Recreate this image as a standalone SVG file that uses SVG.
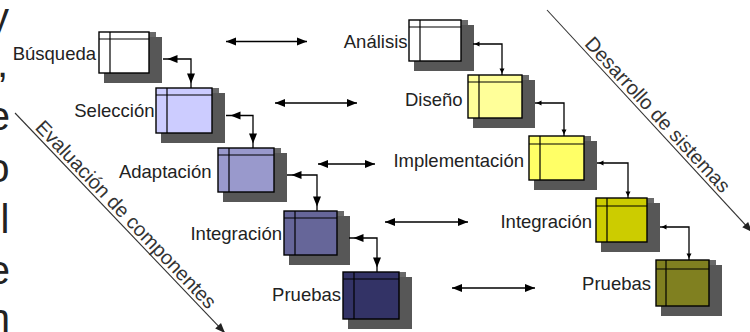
<svg xmlns="http://www.w3.org/2000/svg" width="750" height="332" viewBox="0 0 750 332">
  <style>
    .sh1 { fill: #6a6a6a; }
    .sh2 { fill: #575757; }
    .box { stroke: #000; stroke-width: 1.4; }
    .win { fill: none; stroke: #000; stroke-width: 1.2; }
    .lbl { font-family: "Liberation Sans", Arial, sans-serif; font-size: 18.5px; fill: #222; text-anchor: end; }
    .diag { font-family: "Liberation Sans", Arial, sans-serif; font-size: 20px; fill: #333; text-anchor: middle; }
    .edge { font-family: "Liberation Sans", Arial, sans-serif; font-size: 40px; fill: #222; text-anchor: end; }
    .conn { fill: none; stroke: #000; stroke-width: 1.3; }
    .axis { fill: none; stroke: #333; stroke-width: 1.1; }
  </style>
  <defs>
    <!-- arrowhead set back from the end of the line -->
    <marker id="ahIn" markerUnits="userSpaceOnUse" markerWidth="16" markerHeight="10" refX="14.5" refY="4" orient="auto-start-reverse" overflow="visible">
      <path d="M0,0 L10,4 L0,8 z" fill="#000"/>
    </marker>
    <!-- arrowhead at the end of the line -->
    <marker id="ah" markerUnits="userSpaceOnUse" markerWidth="12" markerHeight="10" refX="10" refY="4" orient="auto-start-reverse" overflow="visible">
      <path d="M0,0 L10,4 L0,8 z" fill="#000"/>
    </marker>
    <!-- small arrowhead -->
    <marker id="ahSmall" markerUnits="userSpaceOnUse" markerWidth="8" markerHeight="6" refX="6.5" refY="2.5" orient="auto-start-reverse" overflow="visible">
      <path d="M0,0 L5,2.5 L0,5 z" fill="#000"/>
    </marker>
    <marker id="ahAxis" markerUnits="userSpaceOnUse" markerWidth="12" markerHeight="10" refX="10" refY="4" orient="auto" overflow="visible">
      <path d="M0,0 L10,4 L0,8 z" fill="#222"/>
    </marker>
  </defs>

  <!-- text running off the left edge -->
  <g id="edge-text">
    <text class="edge" x="9" y="31">y</text>
    <text class="edge" x="8" y="77">,</text>
    <text class="edge" x="10" y="130">e</text>
    <text class="edge" x="9.5" y="181.5">o</text>
    <text class="edge" x="9.5" y="232.5">el</text>
    <text class="edge" x="10" y="284">e</text>
    <text class="edge" x="10" y="331.5">n</text>
  </g>

  <!-- diagonal axes -->
  <g id="axes">
    <path class="axis" d="M15,113 L225,333" marker-end="url(#ahAxis)"/>
    <text class="diag" transform="translate(121.1,219.1) rotate(46.33)">Evaluación de componentes</text>
    <path class="axis" d="M547,10 L752,232" marker-end="url(#ahAxis)"/>
    <text class="diag" transform="translate(652.7,119.3) rotate(47.27)">Desarrollo de sistemas</text>
  </g>

  <!-- component evaluation column -->
  <g id="n-busqueda">
    <g transform="translate(99,32)">
      <rect class="sh1" x="5" y="0" width="52" height="46"/>
      <rect class="sh2" x="5" y="5" width="58" height="46"/>
      <rect class="box" fill="#ffffff" width="50" height="41"/>
      <path class="win" d="M11,0V41M0,7H50"/>
    </g>
    <text class="lbl" x="96" y="60">Búsqueda</text>
  </g>
  <g id="n-seleccion">
    <g transform="translate(156,88)">
      <rect class="sh1" x="5" y="0" width="58" height="50"/>
      <rect class="sh2" x="5" y="5" width="64" height="50"/>
      <rect class="box" fill="#ccccff" width="56" height="45"/>
      <path class="win" d="M11,0V45M0,7H56"/>
    </g>
    <text class="lbl" x="154.5" y="117">Selección</text>
  </g>
  <g id="n-adaptacion">
    <g transform="translate(218,148)">
      <rect class="sh1" x="5" y="0" width="58" height="49"/>
      <rect class="sh2" x="5" y="5" width="64" height="49"/>
      <rect class="box" fill="#9999cc" width="56" height="44"/>
      <path class="win" d="M11,0V44M0,7H56"/>
    </g>
    <text class="lbl" x="211.5" y="177.5">Adaptación</text>
  </g>
  <g id="n-integracion-c">
    <g transform="translate(284,211)">
      <rect class="sh1" x="5" y="0" width="55" height="49"/>
      <rect class="sh2" x="5" y="5" width="61" height="49"/>
      <rect class="box" fill="#666699" width="53" height="44"/>
      <path class="win" d="M11,0V44M0,7H53"/>
    </g>
    <text class="lbl" x="282" y="240">Integración</text>
  </g>
  <g id="n-pruebas-c">
    <g transform="translate(343,272)">
      <rect class="sh1" x="5" y="0" width="58" height="52"/>
      <rect class="sh2" x="5" y="5" width="64" height="52"/>
      <rect class="box" fill="#333366" width="56" height="47"/>
      <path class="win" d="M11,0V47M0,7H56"/>
    </g>
    <text class="lbl" x="341" y="301">Pruebas</text>
  </g>

  <!-- system development column -->
  <g id="n-analisis">
    <g transform="translate(409,20)">
      <rect class="sh1" x="5" y="0" width="54" height="46"/>
      <rect class="sh2" x="5" y="5" width="60" height="46"/>
      <rect class="box" fill="#ffffff" width="52" height="41"/>
      <path class="win" d="M11,0V41M0,7H52"/>
    </g>
    <text class="lbl" x="407.5" y="48">Análisis</text>
  </g>
  <g id="n-diseno">
    <g transform="translate(468,75)">
      <rect class="sh1" x="5" y="0" width="56" height="48"/>
      <rect class="sh2" x="5" y="5" width="62" height="48"/>
      <rect class="box" fill="#ffff99" width="54" height="43"/>
      <path class="win" d="M11,0V43M0,7H54"/>
    </g>
    <text class="lbl" x="462.5" y="106">Diseño</text>
  </g>
  <g id="n-implementacion">
    <g transform="translate(529,136)">
      <rect class="sh1" x="5" y="0" width="57" height="49"/>
      <rect class="sh2" x="5" y="5" width="63" height="49"/>
      <rect class="box" fill="#ffff66" width="55" height="44"/>
      <path class="win" d="M11,0V44M0,8H55"/>
    </g>
    <text class="lbl" x="524" y="166.5">Implementación</text>
  </g>
  <g id="n-integracion-s">
    <g transform="translate(596,198)">
      <rect class="sh1" x="5" y="0" width="53" height="49"/>
      <rect class="sh2" x="5" y="5" width="59" height="49"/>
      <rect class="box" fill="#cccc00" width="51" height="44"/>
      <path class="win" d="M11,0V44M0,8H51"/>
    </g>
    <text class="lbl" x="592" y="228">Integración</text>
  </g>
  <g id="n-pruebas-s">
    <g transform="translate(656,260)">
      <rect class="sh1" x="5" y="0" width="55" height="51"/>
      <rect class="sh2" x="5" y="5" width="61" height="51"/>
      <rect class="box" fill="#808020" width="53" height="46"/>
      <path class="win" d="M10,0V46M0,9H53"/>
    </g>
    <text class="lbl" x="651" y="290">Pruebas</text>
  </g>

  <!-- connectors -->
  <g id="connectors">
    <path class="conn" d="M163,59 H191 V88" marker-start="url(#ahIn)" marker-end="url(#ahIn)"/>
    <path class="conn" d="M226,115.5 H253 V148" marker-start="url(#ahIn)" marker-end="url(#ahIn)"/>
    <path class="conn" d="M287,175 H317 V211" marker-start="url(#ahIn)" marker-end="url(#ahIn)"/>
    <path class="conn" d="M349,238 H377 V272" marker-start="url(#ahIn)" marker-end="url(#ahIn)"/>

    <path class="conn" d="M473,44 H502 V75" marker-start="url(#ahSmall)" marker-end="url(#ahSmall)"/>
    <path class="conn" d="M535,103 H564 V136" marker-start="url(#ahSmall)" marker-end="url(#ahSmall)"/>
    <path class="conn" d="M597,163 H628 V198" marker-start="url(#ahSmall)" marker-end="url(#ahSmall)"/>
    <path class="conn" d="M660,227 H689 V260" marker-start="url(#ahSmall)" marker-end="url(#ahSmall)"/>

    <path class="conn" d="M226,41.5 H307" marker-start="url(#ah)" marker-end="url(#ah)"/>
    <path class="conn" d="M275,103 H357" marker-start="url(#ah)" marker-end="url(#ah)"/>
    <path class="conn" d="M318,164 H375" marker-start="url(#ah)" marker-end="url(#ah)"/>
    <path class="conn" d="M385,222 H468" marker-start="url(#ah)" marker-end="url(#ah)"/>
    <path class="conn" d="M452,288 H535" marker-start="url(#ah)" marker-end="url(#ah)"/>
  </g>
</svg>
